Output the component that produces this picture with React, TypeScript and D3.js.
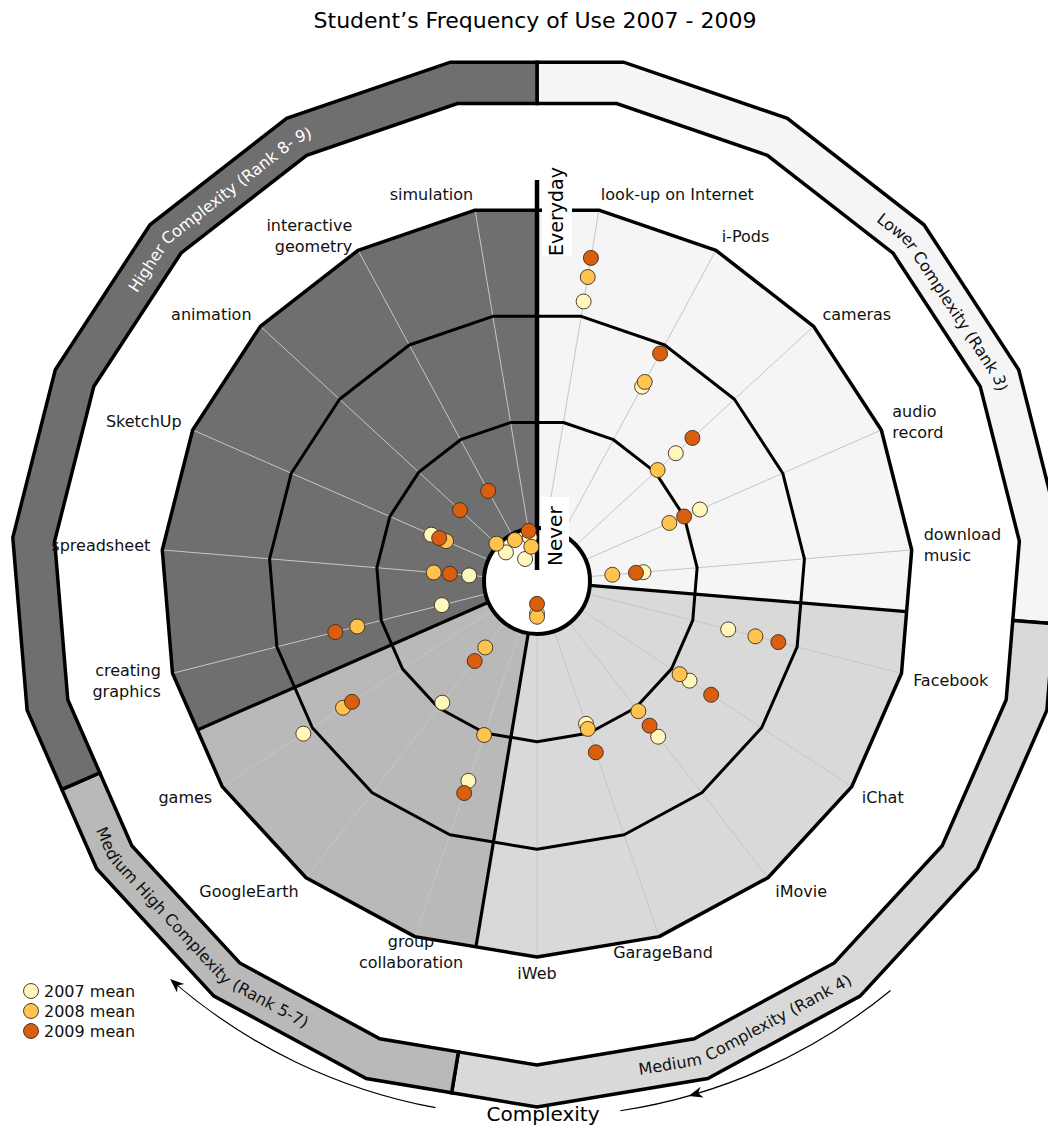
import React from "react";
import * as d3 from "d3";

// ---------------- DATA ----------------
const categories = [
  "look-up on Internet", "i-Pods", "cameras", "audio record", "download music",
  "Facebook", "iChat", "iMovie", "GarageBand", "iWeb",
  "group collaboration", "GoogleEarth", "games",
  "creating graphics", "spreadsheet", "SketchUp", "animation", "interactive geometry", "simulation",
];
const categoryLabelLines = [
  ["look-up on Internet"], ["i-Pods"], ["cameras"], ["audio", "record"], ["download", "music"],
  ["Facebook"], ["iChat"], ["iMovie"], ["GarageBand"], ["iWeb"],
  ["group", "collaboration"], ["GoogleEarth"], ["games"],
  ["creating", "graphics"], ["spreadsheet"], ["SketchUp"], ["animation"], ["interactive", "geometry"], ["simulation"],
];

// mean frequency of use: 1 = Never ... 4 = Everyday
const mean2007 = [3.14, 2.56, 2.26, 2.16, 1.50, 2.34, 2.20, 2.34, 1.91, 0.81, 2.47, 1.94, 3.10, 1.42, 1.14, 1.58, 0.90, 0.74, 0.92];
const mean2008 = [3.37, 2.61, 2.03, 1.85, 1.21, 2.60, 2.09, 2.04, 1.96, 0.84, 2.02, 1.29, 2.66, 2.23, 1.47, 1.43, 1.02, 0.94, 0.83];
const mean2009 = [3.55, 2.91, 2.47, 2.00, 1.43, 2.82, 2.44, 2.21, 2.19, 0.72, 2.59, 1.45, 2.56, 2.44, 1.32, 1.50, 1.48, 1.46, 0.98];

const seriesNames = ["2007 mean", "2008 mean", "2009 mean"];
const seriesValues = [mean2007, mean2008, mean2009];

const sectionNames = [
  "Lower Complexity (Rank 3)",
  "Medium Complexity (Rank 4)",
  "Medium High Complexity (Rank 5-7)",
  "Higher Complexity (Rank 8- 9)",
];
const sectionSizes = [5, 5, 3, 6];

const levelTicks = [1, 2, 3, 4];
const levelNames = ["Never", "Everyday"];

const title = "Student\u2019s Frequency of Use 2007 - 2009";
const arrowTitle = "Complexity";

// ---------------- LAYOUT / STYLE ----------------
const W = 1048, H = 1129;
const cx = 537, cy = 581;
const rHole = 53, rOuter = 376;
const bandInner = 484, bandOuter = 526;
const seriesColors = ["#fff7bc", "#fec44f", "#d95f0e"];
const sectionFills = ["#f5f5f5", "#d9d9d9", "#b9b9b9", "#6f6f6f"];
const sectionTextColors = ["#111", "#111", "#111", "#ffffff"];
const bandTextAngles = [55.5, 155, 224, 319.5];
const FONT = "'DejaVu Sans', Verdana, sans-serif";

const n = categories.length;
const step = 360 / n;
const rad = Math.PI / 180;

const rScale = d3.scaleLinear().domain([1, 4]).range([rHole, rOuter]);
const angleScale = d3.scaleLinear().domain([0, n]).range([0, 360]);

function polar(thetaDeg: number, r: number, ox = cx, oy = cy): [number, number] {
  const t = thetaDeg * rad;
  return [ox + r * Math.sin(t), oy - r * Math.cos(t)];
}
function polyR(thetaDeg: number, R: number) {
  const local = thetaDeg - Math.round(thetaDeg / step) * step;
  return (R * Math.cos((step / 2) * rad)) / Math.cos(local * rad);
}
function polyPt(thetaDeg: number, R: number) {
  return polar(thetaDeg, polyR(thetaDeg, R));
}
const spokeAngle = (i: number) => angleScale(i + 0.5);

function ptsToPath(pts: [number, number][], close = true) {
  return "M" + pts.map((p) => p[0].toFixed(2) + "," + p[1].toFixed(2)).join("L") + (close ? "Z" : "");
}
function edgePts(a0: number, a1: number, R: number) {
  const pts: [number, number][] = [polyPt(a0, R)];
  for (let k = 0; k < n; k++) {
    const va = spokeAngle(k);
    if (va > a0 + 1e-6 && va < a1 - 1e-6) pts.push(polar(va, R));
  }
  pts.push(polyPt(a1, R));
  return pts;
}
function ringPath(R: number) {
  return ptsToPath(d3.range(n).map((k) => polar(spokeAngle(k), R)));
}

// section boundaries
const bounds: number[] = [0];
sectionSizes.forEach((s, i) => bounds.push(bounds[i] + s));
const sections = sectionNames.map((name, i) => ({
  name,
  a0: angleScale(bounds[i]),
  a1: angleScale(bounds[i + 1]),
  fill: sectionFills[i],
  textColor: sectionTextColors[i],
  textAngle: bandTextAngles[i],
}));

function textPathD(center: number, span: number, R: number) {
  const top = Math.cos(center * rad) > 0;
  const angles = d3.range(center - span, center + span + 0.001, 0.25);
  if (!top) angles.reverse();
  return ptsToPath(angles.map((a) => polyPt(a, R)), false);
}

// arrows around the chart
const arcCx = 537, arcCy = 560, arcR = 557;
function arcD(t0: number, t1: number) {
  const p = d3.path();
  p.arc(arcCx, arcCy, arcR, (t0 - 90) * rad, (t1 - 90) * rad, false);
  return p.toString();
}
function arrowHead(t: number) {
  const [x, y] = polar(t, arcR, arcCx, arcCy);
  return (
    <path
      d="M2,0 L-12,-5.5 L-8,0 L-12,5.5 Z"
      transform={`translate(${x},${y}) rotate(${t})`}
      fill="#000"
    />
  );
}

export default function App() {
  return (
    <svg
      width={W}
      height={H}
      viewBox={`0 0 ${W} ${H}`}
      style={{ position: "absolute", left: 0, top: 0, background: "#fff" }}
      fontFamily={FONT}
    >
      <defs>
        {sections.map((s, i) => (
          <path key={i} id={`bandText${i}`} d={textPathD(s.textAngle, 45, (bandInner + bandOuter) / 2)} />
        ))}
      </defs>

      {/* title */}
      <text x={535} y={28} textAnchor="middle" fontSize={22} fill="#000">
        {title}
      </text>

      {/* outer complexity band */}
      {sections.map((s, i) => {
        const outer = edgePts(s.a0, s.a1, bandOuter);
        const inner = edgePts(s.a0, s.a1, bandInner).reverse();
        return (
          <path
            key={"band" + i}
            d={ptsToPath([...outer, ...inner])}
            fill={s.fill}
            stroke="#000"
            strokeWidth={3.5}
            strokeLinejoin="miter"
          />
        );
      })}
      {sections.map((s, i) => (
        <text key={"bt" + i} fontSize={16} fill={s.textColor} dominantBaseline="central">
          <textPath href={`#bandText${i}`} startOffset="50%" textAnchor="middle">
            {s.name}
          </textPath>
        </text>
      ))}

      {/* sector fills */}
      {sections.map((s, i) => (
        <path key={"sec" + i} d={ptsToPath([[cx, cy], ...edgePts(s.a0, s.a1, rOuter)])} fill={s.fill} />
      ))}

      {/* spokes */}
      {categories.map((c, i) => {
        const a = spokeAngle(i);
        const [x1, y1] = polar(a, rHole);
        const [x2, y2] = polar(a, rOuter);
        return <line key={"sp" + i} x1={x1} y1={y1} x2={x2} y2={y2} stroke="#c6c6c2" strokeWidth={1} />;
      })}

      {/* rings */}
      {levelTicks.slice(1, -1).map((v) => (
        <path key={"ring" + v} d={ringPath(rScale(v))} fill="none" stroke="#000" strokeWidth={3} strokeLinejoin="round" />
      ))}
      <path d={ringPath(rScale(4))} fill="none" stroke="#000" strokeWidth={3.5} strokeLinejoin="round" />

      {/* section boundary lines */}
      {sections.slice(0, -1).map((s, i) => {
        const [x1, y1] = polar(s.a1, rHole);
        const [x2, y2] = polyPt(s.a1, rOuter);
        return <line key={"bd" + i} x1={x1} y1={y1} x2={x2} y2={y2} stroke="#000" strokeWidth={3.2} />;
      })}

      {/* hole */}
      <circle cx={cx} cy={cy} r={rScale(1)} fill="#fff" stroke="#000" strokeWidth={4} />

      {/* vertical axis */}
      <line x1={cx} y1={180} x2={cx} y2={570} stroke="#000" strokeWidth={4.5} />
      <rect x={542} y={158} width={30} height={98} fill="#fff" />
      <text transform="translate(563,256) rotate(-90)" fontSize={19} fill="#000">
        {levelNames[1]}
      </text>
      <rect x={541} y={497} width={28} height={73} fill="#fff" />
      <text transform="translate(562,566) rotate(-90)" fontSize={20} fill="#000">
        {levelNames[0]}
      </text>

      {/* category labels */}
      {categoryLabelLines.map((lines, i) => {
        const a = spokeAngle(i);
        const [x, y] = polar(a, rOuter + 12);
        const s = Math.sin(a * rad);
        const top = Math.cos(a * rad) > 0;
        const thr = top ? 0.1 : 0.35;
        const anchor = s > thr ? "start" : s < -thr ? "end" : "middle";
        const lh = 21;
        const y0 = y - ((lines.length - 1) * lh) / 2 + (top ? -4 : 4);
        return (
          <text key={"lab" + i} x={x} y={y0} fontSize={16} textAnchor={anchor} dominantBaseline="central" fill="#111">
            {lines.map((l, j) => (
              <tspan key={j} x={x} y={y0 + j * lh}>
                {l}
              </tspan>
            ))}
          </text>
        );
      })}

      {/* data points */}
      {seriesValues.map((vals, si) =>
        vals.map((v, i) => {
          const [x, y] = polar(spokeAngle(i), rScale(v));
          return (
            <circle key={`p${si}-${i}`} cx={x} cy={y} r={7.5} fill={seriesColors[si]} stroke="#3d2b1f" strokeWidth={0.9} />
          );
        })
      )}

      {/* legend */}
      {seriesNames.map((s, i) => (
        <g key={"lg" + i} transform={`translate(31,${991 + i * 20})`}>
          <circle r={7.5} fill={seriesColors[i]} stroke="#3d2b1f" strokeWidth={0.9} />
          <text x={13} y={0} fontSize={16} dominantBaseline="central" fill="#111">
            {s}
          </text>
        </g>
      ))}

      {/* complexity arrows */}
      <path d={arcD(140.6, 171.4)} fill="none" stroke="#000" strokeWidth={1.2} />
      <path d={arcD(190.5, 221)} fill="none" stroke="#000" strokeWidth={1.2} />
      {arrowHead(164)}
      {arrowHead(221)}
      <text x={543} y={1114} fontSize={20} textAnchor="middle" dominantBaseline="central" fill="#000">
        {arrowTitle}
      </text>
    </svg>
  );
}
